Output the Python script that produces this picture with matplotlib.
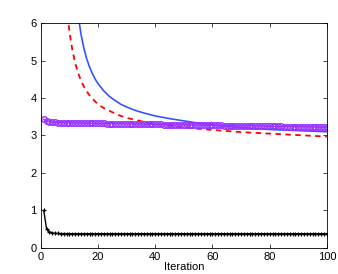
import matplotlib
matplotlib.use("Agg")
import matplotlib.pyplot as plt

plt.rcParams["font.family"] = ["Liberation Sans", "DejaVu Sans"]

# blue solid curve (sampled iterations)
blue_x = [12, 13, 14, 15, 16, 17, 18, 19, 20, 22, 24, 26, 28, 30, 33, 36,
          40, 45, 50, 55, 60, 70, 80, 90, 100]
blue_y = [6.99, 6.23, 5.71, 5.34, 5.05, 4.83, 4.65, 4.50, 4.38, 4.19, 4.04,
          3.93, 3.83, 3.76, 3.67, 3.60, 3.52, 3.45, 3.39, 3.33, 3.28, 3.21,
          3.16, 3.13, 3.10]

# red dashed curve (sampled iterations)
red_x = [9, 10, 11, 12, 13, 14, 15, 16, 17, 18, 20, 22, 25, 28, 30, 35, 40,
         45, 50, 55, 60, 70, 80, 90, 100]
red_y = [6.47, 5.76, 5.28, 4.93, 4.67, 4.47, 4.31, 4.18, 4.07, 3.98, 3.83,
         3.73, 3.62, 3.52, 3.47, 3.38, 3.31, 3.26, 3.22, 3.18, 3.15, 3.09,
         3.05, 3.01, 2.97]

iterations = list(range(1, 101))

purple_y = [
    3.430, 3.385, 3.365, 3.355, 3.350, 3.345, 3.342, 3.340, 3.338, 3.336,
    3.335, 3.333, 3.332, 3.331, 3.330, 3.328, 3.327, 3.326, 3.324, 3.323,
    3.322, 3.320, 3.319, 3.318, 3.317, 3.315, 3.314, 3.313, 3.311, 3.310,
    3.309, 3.307, 3.306, 3.305, 3.304, 3.302, 3.301, 3.300, 3.298, 3.297,
    3.296, 3.294, 3.293, 3.292, 3.291, 3.289, 3.288, 3.287, 3.285, 3.284,
    3.283, 3.281, 3.280, 3.279, 3.278, 3.276, 3.275, 3.274, 3.272, 3.271,
    3.270, 3.268, 3.267, 3.266, 3.265, 3.263, 3.262, 3.261, 3.259, 3.258,
    3.257, 3.255, 3.254, 3.253, 3.252, 3.250, 3.249, 3.248, 3.246, 3.245,
    3.244, 3.242, 3.241, 3.240, 3.239, 3.237, 3.236, 3.235, 3.233, 3.232,
    3.231, 3.229, 3.228, 3.227, 3.226, 3.224, 3.223, 3.222, 3.220, 3.219,
]

black_y = [
    1.000, 0.500, 0.430, 0.400, 0.390, 0.386, 0.384, 0.383, 0.382, 0.381,
    0.381, 0.380, 0.380, 0.380, 0.380, 0.380, 0.380, 0.380, 0.380, 0.380,
    0.380, 0.380, 0.380, 0.380, 0.380, 0.380, 0.380, 0.380, 0.380, 0.380,
    0.380, 0.380, 0.380, 0.380, 0.380, 0.380, 0.380, 0.380, 0.380, 0.380,
    0.380, 0.380, 0.380, 0.380, 0.380, 0.380, 0.380, 0.380, 0.380, 0.380,
    0.380, 0.380, 0.380, 0.380, 0.380, 0.380, 0.380, 0.380, 0.380, 0.380,
    0.380, 0.380, 0.380, 0.380, 0.380, 0.380, 0.380, 0.380, 0.380, 0.380,
    0.380, 0.380, 0.380, 0.380, 0.380, 0.380, 0.380, 0.380, 0.380, 0.380,
    0.380, 0.380, 0.380, 0.380, 0.380, 0.380, 0.380, 0.380, 0.380, 0.380,
    0.380, 0.380, 0.380, 0.380, 0.380, 0.380, 0.380, 0.380, 0.380, 0.380,
]

x_ticks = [0, 20, 40, 60, 80, 100]
y_ticks = [0, 1, 2, 3, 4, 5, 6]

fig = plt.figure(figsize=(3.38, 2.74), dpi=100)
ax = fig.add_axes([0.121, 0.095, 0.846, 0.821])

ax.plot(blue_x, blue_y, color="#3355ff", lw=1.2)
ax.plot(red_x, red_y, color="#ff0000", lw=1.3, ls=(0, (3, 2.5)))
ax.plot(iterations, purple_y, color="#9933ff", lw=1.0, marker="o",
        markersize=4, markerfacecolor="none", markeredgewidth=1.0)
ax.plot(iterations, black_y, color="black", lw=1.0, marker="+",
        markersize=3, markeredgewidth=0.9)

ax.set_xlim(0, 100)
ax.set_ylim(0, 6)
ax.set_xticks(x_ticks)
ax.set_yticks(y_ticks)
ax.tick_params(direction="in", length=3, width=0.5, labelsize=8,
               top=True, right=True, pad=3)
for spine in ax.spines.values():
    spine.set_linewidth(0.6)
ax.set_xlabel("Iteration", fontsize=8, labelpad=0)

fig.savefig("out.png", dpi=100)
